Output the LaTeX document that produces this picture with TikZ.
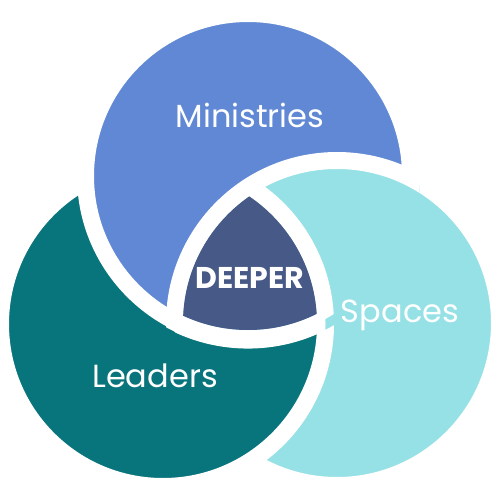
\documentclass[tikz,border=0pt]{standalone}
\usepackage{fontspec}
\setmainfont{Poppins}
\usepackage{xcolor}
\usepackage{tikz}

\definecolor{ministriesblue}{HTML}{6088D4}
\definecolor{leadersteal}{HTML}{08747C}
\definecolor{spacescyan}{HTML}{96E1E6}
\definecolor{deeperslate}{HTML}{475987}

\begin{document}
\begin{tikzpicture}[
    x=1pt, y=-1pt,
    every node/.style={font=\fontsize{32}{36}\selectfont, text=white, anchor=base},
    gap/.style={draw=white, line width=17pt},
    disc/.style={radius=162.5pt},
    inner/.style={radius=154pt},
    outer/.style={radius=172pt},
]
\useasboundingbox (0,0) rectangle (500,500);

% Circle centres
\coordinate (cm) at (248,176);
\coordinate (cl) at (163,324);
\coordinate (cs) at (337,323);

% Spaces under Leaders, Leaders under Ministries
\path[fill=spacescyan, gap] (cs) circle[disc];
\path[fill=leadersteal, gap] (cl) circle[disc];
\path[fill=ministriesblue, gap] (cm) circle[disc];

% Spaces over Ministries
\begin{scope}
  \clip (cm) circle[outer];
  \path[fill=spacescyan, gap] (cs) circle[disc];
\end{scope}

% White borders round the centre
\begin{scope}
  \clip (cm) circle[disc];
  \clip (cs) circle[disc];
  \draw[gap] (cl) circle[disc];
\end{scope}
\begin{scope}
  \clip (cs) circle[disc];
  \clip (cl) circle[disc];
  \draw[draw=white, line width=18.5pt] (cm) circle[radius=163.3pt];
\end{scope}

% Centre piece
\begin{scope}
  \clip (cm) circle[inner];
  \clip (cs) circle[inner];
  \clip (cl) circle[inner];
  \fill[deeperslate] (150,150) rectangle (350,350);
\end{scope}

% Labels
\node (ministries) at (250,128) {Ministries};
\node (leaders) at (155,387) {Leaders};
\node (spaces) at (400,322) {Spaces};
\node[font=\fontsize{30}{36}\selectfont\bfseries] (deeper) at (250,288) {DEEPER};

\end{tikzpicture}
\end{document}
